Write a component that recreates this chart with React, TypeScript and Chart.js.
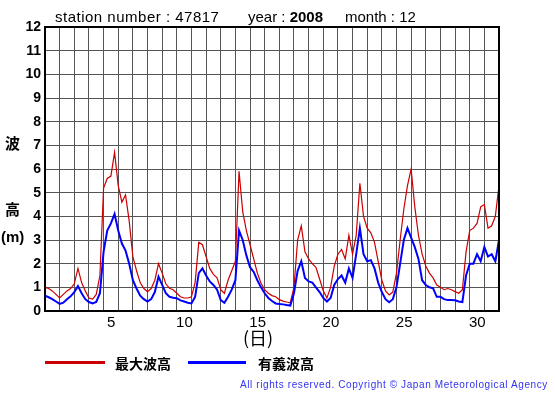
import React, { useEffect, useRef } from "react";
import { Chart, registerables } from "chart.js";

Chart.register(...registerables);

// time step between samples, in days (day 1 00:00 = 0)
const STEP_DAYS = 0.25;
const DAY_LABELS = [5, 10, 15, 20, 25, 30];
const X_MIN = 0;
const X_MAX = 31;
const Y_MIN = 0;
const Y_MAX = 12;

// 最大波高 (maximum wave height, m), every 6 hours
const maxWave = [
  1.0, 0.95, 0.85, 0.7,
  0.55, 0.7, 0.85, 0.95,
  1.15, 1.8, 1.2, 0.85,
  0.55, 0.5, 0.7, 1.5,
  5.2, 5.6, 5.7, 6.7,
  5.3, 4.6, 4.9, 3.8,
  2.3, 1.7, 1.2, 0.95,
  0.82, 0.95, 1.3, 2.0,
  1.6, 1.15, 0.96, 0.9,
  0.75, 0.6, 0.55, 0.55,
  0.6, 1.2, 2.9, 2.8,
  2.3, 1.8, 1.55, 1.4,
  0.9, 0.75, 1.3, 1.7,
  2.1, 5.9, 4.2, 3.4,
  2.8, 2.2, 1.6, 1.17,
  0.9, 0.75, 0.65, 0.6,
  0.48, 0.42, 0.38, 0.35,
  1.0, 3.0, 3.6, 2.5,
  2.2, 2.0, 1.85, 1.35,
  0.85, 0.55, 1.0, 1.9,
  2.4, 2.6, 2.2, 3.2,
  2.4, 3.2, 5.4, 4.0,
  3.5, 3.3, 2.9, 2.1,
  1.3, 0.85, 0.68, 0.8,
  1.6, 3.0, 4.3, 5.3,
  6.0, 4.4, 3.2, 2.4,
  1.9, 1.6, 1.4, 1.1,
  1.0, 0.9, 0.95, 0.9,
  0.82, 0.75, 0.9, 2.5,
  3.4, 3.5, 3.7, 4.4,
  4.5, 3.5, 3.6, 4.0,
  5.3,
];

// 有義波高 (significant wave height, m), every 6 hours
const sigWave = [
  0.65, 0.58, 0.5, 0.4,
  0.3, 0.35, 0.5, 0.62,
  0.8, 1.05, 0.75, 0.5,
  0.38, 0.32, 0.38, 0.75,
  2.5, 3.4, 3.7, 4.1,
  3.4, 2.85, 2.55, 2.0,
  1.3, 0.95, 0.65, 0.5,
  0.4, 0.5, 0.8, 1.45,
  1.1, 0.75, 0.6, 0.56,
  0.54, 0.45, 0.4, 0.35,
  0.32, 0.6, 1.6, 1.8,
  1.5, 1.25, 1.1, 0.9,
  0.46, 0.35, 0.6, 0.9,
  1.3, 3.4, 3.0, 2.35,
  1.85, 1.65, 1.3, 1.0,
  0.75, 0.55, 0.42, 0.32,
  0.3, 0.28, 0.25, 0.23,
  0.75, 1.7, 2.1, 1.4,
  1.25, 1.2, 1.0, 0.8,
  0.55, 0.4, 0.55, 1.1,
  1.35, 1.5, 1.2, 1.8,
  1.4, 2.4, 3.5, 2.4,
  2.1, 2.15, 1.8, 1.2,
  0.8, 0.5, 0.37, 0.5,
  1.0, 2.0, 3.0, 3.5,
  3.1, 2.7, 2.2, 1.3,
  1.1, 1.0, 0.96, 0.6,
  0.6, 0.5, 0.46, 0.46,
  0.45, 0.4, 0.38, 1.5,
  2.0, 2.0, 2.4, 2.1,
  2.7, 2.3, 2.4, 2.1,
  3.0,
];

const RED = "#cc0000";
const BLUE = "#0000ff";
const LATIN = "'Liberation Sans', Arial, sans-serif";
const CJK = "'Noto Sans CJK JP', 'Noto Sans CJK SC', sans-serif";

const abs = (s: React.CSSProperties): React.CSSProperties => ({
  position: "absolute",
  whiteSpace: "nowrap",
  margin: 0,
  ...s,
});

export default function App() {
  const ref = useRef<HTMLCanvasElement>(null);

  useEffect(() => {
    const canvas = ref.current;
    if (!canvas) return;
    const toPts = (arr: number[]) => arr.map((y, i) => ({ x: i * STEP_DAYS, y }));
    const framePlugin = {
      id: "frame",
      afterDraw(chart: any) {
        const { ctx, chartArea: a } = chart;
        ctx.save();
        ctx.strokeStyle = "#000";
        ctx.lineWidth = 2;
        ctx.strokeRect(a.left, a.top, a.right - a.left, a.bottom - a.top);
        ctx.restore();
      },
    };
    const chart = new Chart(canvas, {
      type: "line",
      data: {
        datasets: [
          {
            label: "有義波高",
            data: toPts(sigWave),
            borderColor: BLUE,
            borderWidth: 2,
            pointRadius: 0,
            tension: 0,
          },
          {
            label: "最大波高",
            data: toPts(maxWave),
            borderColor: RED,
            borderWidth: 1.2,
            pointRadius: 0,
            tension: 0,
          },
        ],
      },
      options: {
        animation: false,
        responsive: false,
        devicePixelRatio: 1,
        layout: { padding: { left: 0, top: 27, right: 56, bottom: 64 } },
        plugins: { legend: { display: false }, tooltip: { enabled: false } },
        scales: {
          x: {
            type: "linear",
            min: X_MIN,
            max: X_MAX,
            afterFit: (s: any) => {
              s.height = 20;
            },
            ticks: {
              stepSize: 1,
              autoSkip: false,
              maxRotation: 0,
              labelOffset: -7,
              padding: 3,
              color: "#000",
              font: { family: LATIN, size: 15 },
              callback: (v: any) => (DAY_LABELS.includes(Number(v)) ? String(v) : ""),
            },
            grid: { color: "#555", lineWidth: 1, drawTicks: false },
            border: { display: false },
          },
          y: {
            min: Y_MIN,
            max: Y_MAX,
            afterFit: (s: any) => {
              s.width = 45;
            },
            ticks: {
              stepSize: 1,
              padding: 4,
              color: "#000",
              font: { family: LATIN, size: 14, weight: "bold" },
            },
            grid: { color: "#555", lineWidth: 1, drawTicks: false },
            border: { display: false },
          },
        },
      },
      plugins: [framePlugin],
    } as any);
    return () => chart.destroy();
  }, []);

  return (
    <div style={{ position: "absolute", left: 0, top: 0, width: 555, height: 395, background: "#fff" }}>
      <canvas ref={ref} width={555} height={395} style={{ position: "absolute", left: 0, top: 0 }} />
      <div style={abs({ left: 55, top: 8, font: `15px ${LATIN}`, letterSpacing: "0.5px", lineHeight: "18px" })}>
        station number : 47817
      </div>
      <div style={abs({ left: 248, top: 8, font: `15px ${LATIN}`, lineHeight: "18px" })}>
        year : <b style={{ fontSize: 15 }}>2008</b>
      </div>
      <div style={abs({ left: 345, top: 8, font: `15px ${LATIN}`, lineHeight: "18px" })}>
        month : 12
      </div>
      <div style={abs({ left: 5, top: 134, font: `bold 15px ${CJK}`, lineHeight: "18px" })}>波</div>
      <div style={abs({ left: 5, top: 200, font: `bold 15px ${CJK}`, lineHeight: "18px" })}>高</div>
      <div style={abs({ left: 1, top: 228, font: `bold 15px ${LATIN}`, lineHeight: "18px" })}>(m)</div>
      <div style={abs({ left: 243, top: 326, font: `18px ${CJK}`, lineHeight: "22px" })}>(日)</div>
      <div style={abs({ left: 45, top: 361, width: 60, height: 3, background: RED })} />
      <div style={abs({ left: 115, top: 353, font: `bold 14px ${CJK}`, lineHeight: "20px" })}>最大波高</div>
      <div style={abs({ left: 188, top: 361, width: 58, height: 3, background: BLUE })} />
      <div style={abs({ left: 258, top: 353, font: `bold 14px ${CJK}`, lineHeight: "20px" })}>有義波高</div>
      <div
        style={abs({
          left: 240,
          top: 378,
          font: `10px ${LATIN}`,
          letterSpacing: "0.6px",
          color: "#3333ee",
          lineHeight: "13px",
        })}
      >
        All rights reserved. Copyright © Japan Meteorological Agency
      </div>
    </div>
  );
}
